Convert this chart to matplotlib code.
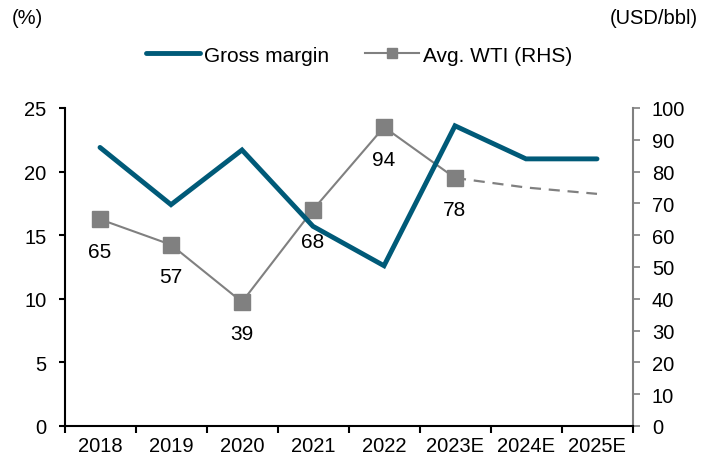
import matplotlib.pyplot as plt
import numpy as np

plt.rcParams['font.family'] = ['Liberation Sans', 'DejaVu Sans']

# Data
years = ['2018', '2019', '2020', '2021', '2022', '2023E', '2024E', '2025E']
gross_margin = [21.9, 17.4, 21.7, 15.7, 12.6, 23.6, 21.0, 21.0]
wti_actual = [65, 57, 39, 68, 94, 78]
wti_forecast = [78, 75, 73]

teal = '#005a78'
gray = '#808080'

fig = plt.figure(figsize=(7.02, 4.64), dpi=100)
ax = fig.add_axes([64.5 / 702, 37 / 464, 568 / 702, 318 / 464])
ax2 = ax.twinx()

x = np.arange(len(years))
ax.plot(x, gross_margin, color=teal, linewidth=3.5, solid_capstyle='round',
        solid_joinstyle='miter', label='Gross margin', zorder=3)

xa = x[:len(wti_actual)]
xf = x[len(wti_actual) - 1:]
ax2.plot(xa, wti_actual, color=gray, linewidth=1.5, marker='s', markersize=12,
         markerfacecolor=gray, markeredgecolor=gray, label='Avg. WTI (RHS)')
ax2.plot(xf, wti_forecast, color=gray, linewidth=1.6, linestyle=(0, (5, 3.5)))
for xi, v in zip(xa, wti_actual):
    ax2.annotate(str(v), (xi, v), textcoords='offset points', xytext=(0, -23),
                 ha='center', va='center', fontsize=15)

ax.set_xlim(-0.5, len(years) - 0.5)
ax.set_ylim(0, 25)
ax2.set_ylim(0, 100)
ax.set_yticks(range(0, 26, 5))
ax2.set_yticks(range(0, 101, 10))

ax.set_xticks(x)
ax.set_xticklabels(years, fontsize=14.5)
ax.set_xticks(np.arange(-0.5, len(years), 1), minor=True)
ax.tick_params(axis='x', which='major', length=0, pad=7)
ax.tick_params(axis='x', which='minor', length=5, width=1.5, direction='out')
ax.tick_params(axis='y', labelsize=14.5, direction='out', length=4, width=1.5,
               pad=9)
ax2.tick_params(axis='y', labelsize=14.5, direction='out', length=5, width=1.2,
                color=gray, pad=9)

for a in (ax, ax2):
    a.spines['top'].set_visible(False)
ax.spines['left'].set_linewidth(1.5)
ax.spines['bottom'].set_linewidth(1.5)
ax.spines['right'].set_visible(False)
ax2.spines['left'].set_visible(False)
ax2.spines['bottom'].set_visible(False)
ax2.spines['right'].set_color(gray)
ax2.spines['right'].set_linewidth(1.5)
ax.set_zorder(ax2.get_zorder() + 1)
ax.patch.set_visible(False)

fig.text(12 / 702, 1 - 19 / 464, '(%)', fontsize=14.5, va='center', ha='left')
fig.text(698 / 702, 1 - 19 / 464, '(USD/bbl)', fontsize=14.5, va='center', ha='right')

h1, l1 = ax.get_legend_handles_labels()
h2, l2 = ax2.get_legend_handles_labels()
fig.legend(h1 + h2, l1 + l2, loc='center', bbox_to_anchor=(359 / 702, 1 - 56 / 464),
           ncol=2, frameon=False, fontsize=15, handlelength=2.6, handletextpad=0.2,
           columnspacing=1.7, markerscale=0.55, borderpad=0, borderaxespad=0)

fig.savefig('out.png', dpi=100)
